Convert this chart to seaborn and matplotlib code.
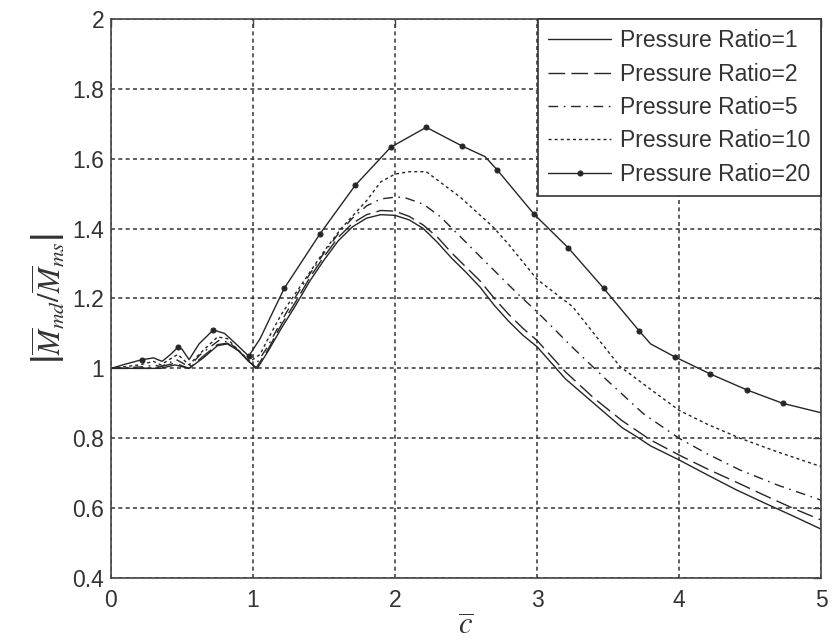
import numpy as np
import pandas as pd
import matplotlib
matplotlib.use("Agg")
import matplotlib.pyplot as plt
import seaborn as sns

# ---- data: |Mmd/Mms| versus c-bar for several pressure ratios ----
x_pr1 = [0.0, 0.35, 0.45, 0.55, 0.65, 0.75, 0.82, 0.90, 0.97, 1.03, 1.10, 1.20, 1.30, 1.40,
         1.50, 1.60, 1.70, 1.80, 1.90, 2.00, 2.10, 2.20, 2.30, 2.40, 2.50, 2.60, 2.70, 2.80,
         2.90, 3.00, 3.20, 3.40, 3.60, 3.70, 3.80, 4.00, 4.20, 4.40, 4.60, 4.80, 5.00]
y_pr1 = [1.000, 1.000, 1.010, 1.000, 1.030, 1.065, 1.070, 1.050, 1.020, 1.000, 1.045, 1.115,
         1.180, 1.250, 1.310, 1.365, 1.405, 1.430, 1.440, 1.438, 1.425, 1.400, 1.360, 1.315,
         1.275, 1.232, 1.180, 1.135, 1.095, 1.062, 0.970, 0.900, 0.830, 0.805, 0.778, 0.738,
         0.695, 0.653, 0.615, 0.578, 0.540]

x_pr2 = [0.0, 0.30, 0.45, 0.55, 0.65, 0.75, 0.82, 0.90, 0.97, 1.02, 1.10, 1.20, 1.30, 1.40,
         1.50, 1.60, 1.70, 1.80, 1.90, 2.00, 2.10, 2.20, 2.30, 2.40, 2.50, 2.60, 2.70, 2.80,
         2.90, 3.00, 3.20, 3.40, 3.60, 3.80, 4.00, 4.20, 4.40, 4.60, 4.80, 5.00]
y_pr2 = [1.000, 1.000, 1.015, 1.000, 1.035, 1.068, 1.072, 1.050, 1.020, 1.000, 1.050, 1.125,
         1.190, 1.260, 1.320, 1.375, 1.415, 1.440, 1.452, 1.450, 1.435, 1.410, 1.375, 1.330,
         1.290, 1.250, 1.200, 1.155, 1.115, 1.080, 0.990, 0.915, 0.850, 0.795, 0.752, 0.712,
         0.675, 0.637, 0.600, 0.566]

x_pr5 = [0.0, 0.25, 0.30, 0.35, 0.46, 0.55, 0.63, 0.76, 0.83, 0.90, 0.97, 1.01, 1.10, 1.20,
         1.30, 1.40, 1.50, 1.60, 1.70, 1.80, 1.90, 2.00, 2.06, 2.20, 2.32, 2.60, 2.86, 3.00,
         3.25, 3.49, 3.75, 4.00, 4.20, 4.43, 4.70, 5.00]
y_pr5 = [1.000, 1.005, 1.010, 1.005, 1.025, 1.005, 1.040, 1.080, 1.075, 1.050, 1.020, 1.005,
         1.060, 1.135, 1.205, 1.270, 1.330, 1.385, 1.430, 1.465, 1.485, 1.490, 1.490, 1.470,
         1.434, 1.320, 1.215, 1.162, 1.060, 0.967, 0.870, 0.800, 0.755, 0.709, 0.665, 0.623]

x_pr10 = [0.0, 0.20, 0.30, 0.35, 0.47, 0.55, 0.62, 0.75, 0.82, 0.90, 0.98, 1.05, 1.10, 1.20,
          1.30, 1.40, 1.50, 1.62, 1.80, 1.90, 2.00, 2.10, 2.22, 2.46, 2.69, 2.80, 2.90, 3.00,
          3.25, 3.40, 3.585, 3.80, 4.00, 4.20, 4.43, 4.70, 5.00]
y_pr10 = [1.000, 1.010, 1.020, 1.010, 1.040, 1.010, 1.040, 1.090, 1.085, 1.050, 1.020, 1.040,
          1.080, 1.155, 1.215, 1.275, 1.335, 1.400, 1.480, 1.534, 1.556, 1.563, 1.563, 1.490,
          1.405, 1.355, 1.305, 1.255, 1.177, 1.100, 1.005, 0.940, 0.880, 0.840, 0.800, 0.760,
          0.719]

x_pr20 = [0.0, 0.10, 0.22, 0.30, 0.36, 0.42, 0.47, 0.50, 0.55, 0.62, 0.72, 0.80, 0.88, 0.97,
          1.05, 1.156, 1.22, 1.47, 1.72, 1.97, 2.22, 2.47, 2.634, 2.72, 2.98, 3.22, 3.47, 3.72,
          3.80, 3.97, 4.22, 4.48, 4.73, 5.00]
y_pr20 = [1.000, 1.012, 1.025, 1.030, 1.020, 1.040, 1.060, 1.055, 1.025, 1.070, 1.110, 1.100,
          1.070, 1.035, 1.085, 1.175, 1.229, 1.384, 1.524, 1.633, 1.690, 1.637, 1.606, 1.568,
          1.441, 1.345, 1.229, 1.107, 1.070, 1.033, 0.984, 0.938, 0.900, 0.873]
# sample points that carry a marker on the Pressure Ratio=20 curve
marker_x_pr20 = [0.22, 0.47, 0.72, 0.97, 1.22, 1.47, 1.72, 1.97, 2.22, 2.47, 2.72, 2.98,
                 3.22, 3.47, 3.72, 3.97, 4.22, 4.48, 4.73]

labels = ["Pressure Ratio=1", "Pressure Ratio=2", "Pressure Ratio=5",
          "Pressure Ratio=10", "Pressure Ratio=20"]

x_ticks = [0, 1, 2, 3, 4, 5]
y_ticks = [0.4, 0.6, 0.8, 1.0, 1.2, 1.4, 1.6, 1.8, 2.0]
y_tick_labels = ["0.4", "0.6", "0.8", "1", "1.2", "1.4", "1.6", "1.8", "2"]

# ---- styling ----
sns.set_theme(style="white")
plt.rcParams["font.family"] = ["Liberation Sans", "DejaVu Sans"]
plt.rcParams["mathtext.fontset"] = "stix"

ink = "#262626"
text_c = "#333333"

fig = plt.figure(figsize=(8.32, 6.42), dpi=100)
ax = fig.add_axes([0.1334, 0.0997, 0.8534, 0.8707])

series = [
    (x_pr1, y_pr1, "-", None),
    (x_pr2, y_pr2, (0, (12, 4.5)), None),
    (x_pr5, y_pr5, (0, (7, 4, 1.2, 4)), None),
    (x_pr10, y_pr10, (0, (2.2, 2.2)), None),
    (x_pr20, y_pr20, "-", "o"),
]

for (xs, ys, ls, mk), lab in zip(series, labels):
    df = pd.DataFrame({"c": xs, "M": ys})
    kw = {}
    if mk is not None:
        idx = [int(np.argmin(np.abs(np.asarray(xs) - m))) for m in marker_x_pr20]
        kw = dict(marker=mk, markersize=3.6, markevery=idx,
                  markerfacecolor=ink, markeredgecolor=ink)
    sns.lineplot(data=df, x="c", y="M", ax=ax, color=ink, linewidth=1.0,
                 linestyle=ls, label=lab, sort=False, estimator=None, **kw)

ax.set_xlim(0, 5)
ax.set_ylim(0.4, 2.0)
ax.set_xticks(x_ticks)
ax.set_yticks(y_ticks)
ax.set_yticklabels(y_tick_labels)

ax.grid(True, color="#333333", linestyle=(0, (2.6, 2.2)), linewidth=1.1)
for s in ax.spines.values():
    s.set_visible(True)
    s.set_color("#444444")
    s.set_linewidth(1.2)

ax.tick_params(axis="both", direction="in", length=6, width=1.0, color="#444444",
               top=True, right=True, labelsize=16.5, labelcolor=text_c)
ax.tick_params(axis="x", pad=8)
ax.tick_params(axis="y", pad=5)

ax.set_xlabel(r"$\overline{c}$", fontsize=22, color=text_c, labelpad=0)
ax.set_ylabel(r"$\left|\overline{M}_{md}/\overline{M}_{ms}\right|$", fontsize=22,
              color=text_c, labelpad=4)

leg = ax.legend(loc="upper right", bbox_to_anchor=(1.0, 1.0), borderaxespad=0.0,
                fontsize=16.5, frameon=True, fancybox=False, framealpha=1.0,
                edgecolor="#333333", handlelength=2.75, handletextpad=0.4,
                borderpad=0.45, labelspacing=0.45)
leg.get_frame().set_linewidth(1.2)
for t in leg.get_texts():
    t.set_color(text_c)

fig.savefig("out.png", dpi=100)
